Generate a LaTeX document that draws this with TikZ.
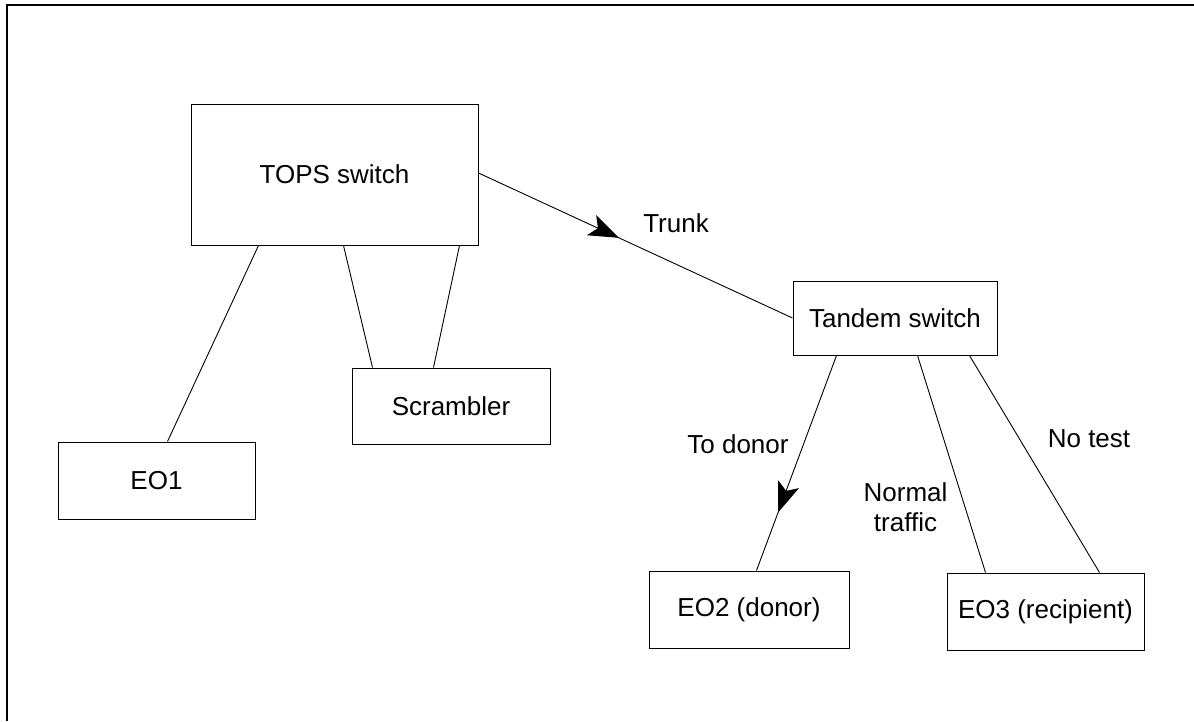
\documentclass[tikz,border=0pt]{standalone}
\usepackage{fontspec}
\setmainfont{Liberation Sans}
\usetikzlibrary{arrows.meta,decorations.markings,calc}
\begin{document}
\begin{tikzpicture}[x=1pt,y=-1pt,
  box/.style={draw,line width=1pt,rectangle,inner sep=0pt,font=\fontsize{26}{30}\selectfont},
  conn/.style={line width=0.9pt},
  lbl/.style={inner sep=0pt,font=\fontsize{26}{30}\selectfont},
  midarrow/.style={postaction={decorate},decoration={markings,mark=at position #1 with {\arrow{Stealth[length=30pt,width=22pt,inset=7pt]}}}}
]
\useasboundingbox (0,0) rectangle (1194,721);
\draw[line width=2pt] (6.5,721) -- (6.5,4.5) -- (1194,4.5);

\node[box,minimum width=287pt,minimum height=141pt] (tops) at (334.5,174.5) {TOPS switch};
\node[box,minimum width=198pt,minimum height=76pt] (scr) at (451,406) {Scrambler};
\node[box,minimum width=197pt,minimum height=77pt] (eo1) at (156.5,480.5) {EO1};
\node[box,minimum width=204pt,minimum height=74pt] (tan) at (895,318) {Tandem switch};
\node[box,minimum width=200pt,minimum height=77pt] (eo2) at (749,609.5) {EO2 (donor)};
\node[box,minimum width=197pt,minimum height=77pt] (eo3) at (1045.5,611.5) {EO3 (recipient)};

\draw[conn] ([xshift=68pt]tops.south west) -- ([xshift=110pt]eo1.north west);
\draw[conn] ([xshift=153pt]tops.south west) -- ([xshift=21pt]scr.north west);
\draw[conn] ([xshift=269pt]tops.south west) -- ([xshift=82pt]scr.north west);
\draw[conn,midarrow=0.447] ([yshift=1.5pt]tops.east) -- (tan.west);
\draw[conn,midarrow=0.73] ([xshift=44pt]tan.south west) -- ([xshift=108pt]eo2.north west);
\draw[conn] ([xshift=125pt]tan.south west) -- ([xshift=39pt]eo3.north west);
\draw[conn] ([xshift=177pt]tan.south west) -- ([xshift=153pt]eo3.north west);

\node[lbl,anchor=base] (trunk) at (676,232) {Trunk};
\node[lbl,anchor=base] (todonor) at (738,453) {To donor};
\node[lbl,anchor=base] (notest) at (1089,447) {No test};
\node[lbl,align=center] (normal) at (905.5,507.5) {Normal\\traffic};
\end{tikzpicture}
\end{document}
